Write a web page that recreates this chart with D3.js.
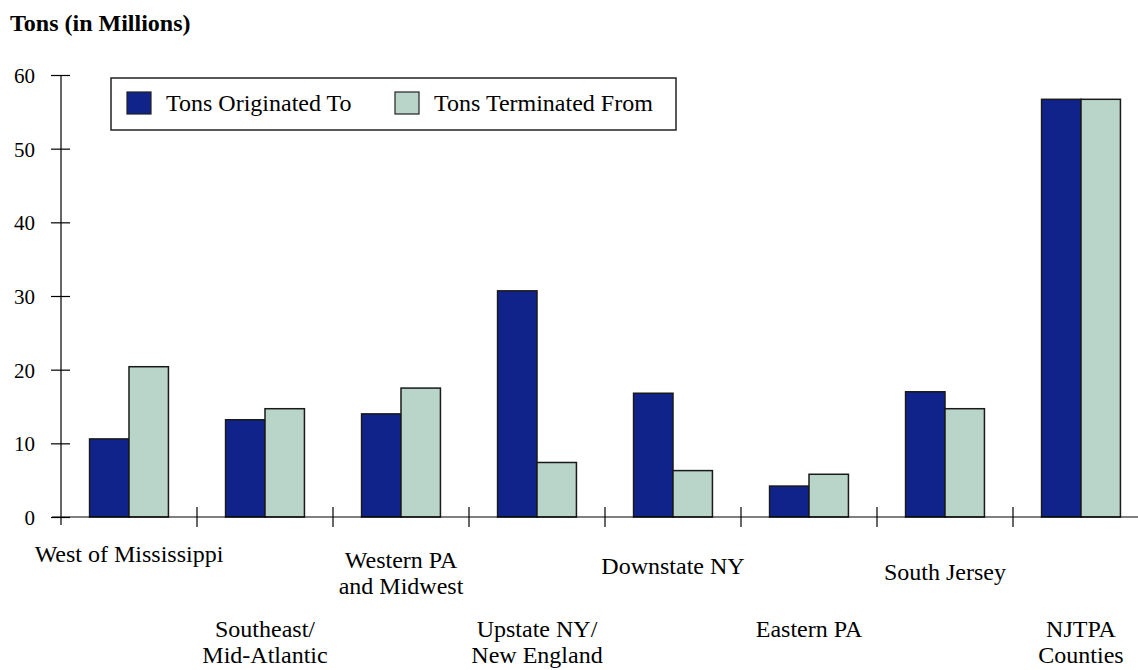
<!DOCTYPE html>
<meta charset="utf-8">
<script src="https://d3js.org/d3.v7.min.js"></script>
<style>
  body { margin: 0; background: #fff; }
  svg text { font-family: "Liberation Serif", "Times New Roman", serif !important; fill: #000; }
</style>
<div id="chart"></div>
<script>

// data (millions of tons)
var categories = ["West of Mississippi", "Southeast/ Mid-Atlantic", "Western PA and Midwest",
                  "Upstate NY/ New England", "Downstate NY", "Eastern PA", "South Jersey", "NJTPA Counties"];
// how each category label is broken into lines
var labelLines = [["West of Mississippi"], ["Southeast/", "Mid-Atlantic"], ["Western PA", "and Midwest"],
                  ["Upstate NY/", "New England"], ["Downstate NY"], ["Eastern PA"], ["South Jersey"], ["NJTPA", "Counties"]];
var seriesNames = ["Tons Originated To", "Tons Terminated From"];
var originated = [10.6, 13.2, 14.0, 30.7, 16.8, 4.2, 17.0, 56.7];
var terminated = [20.4, 14.7, 17.5, 7.4, 6.3, 5.8, 14.7, 56.7];
var yTicks = [0, 10, 20, 30, 40, 50, 60];

var colors = ["#10238b", "#b9d5ca"];

var width = 1138, height = 670;
var x0 = 61, step = 136, yBase = 517, yTop = 75;

var svg = d3.select("#chart").append("svg")
    .attr("width", width)
    .attr("height", height);

// title
svg.append("text")
    .attr("x", 10)
    .attr("y", 31)
    .style("font-weight", "bold")
    .style("font-size", "24px")
    .text("Tons (in Millions)");

// scales
var x = d3.scaleBand()
  .domain(categories)
  .range([x0, x0 + step * categories.length])
  .paddingInner(0.42)
  .paddingOuter(0.21);

var x1 = d3.scaleBand()
  .domain(seriesNames)
  .range([0, x.bandwidth()]);

var y = d3.scaleLinear()
  .domain([0, 60])
  .range([yBase, yTop]);

// y axis
var yAxis = svg.append("g")
    .attr("transform", "translate(" + x0 + ",0)")
    .call(d3.axisLeft(y).tickValues(yTicks).tickSize(0).tickPadding(0));
yAxis.attr("font-family", null);
yAxis.select(".domain").remove();
yAxis.selectAll(".tick line")
    .attr("x1", -10).attr("x2", 9)
    .attr("stroke", "#000").attr("stroke-width", 1.2);
yAxis.selectAll(".tick text")
    .attr("x", -26)
    .attr("dy", "0.35em")
    .style("font-size", "21px");
yAxis.append("line")
    .attr("y1", yTop).attr("y2", yBase + 8)
    .attr("stroke", "#000").attr("stroke-width", 1.2);

// bars
var rows = categories.map(function(c, i) {
  return {cat: c, values: [originated[i], terminated[i]]};
});

var groups = svg.selectAll("g.group")
  .data(rows)
  .enter().append("g")
    .attr("class", "group")
    .attr("transform", function(d) { return "translate(" + x(d.cat) + ",0)"; });

groups.selectAll("rect")
  .data(function(d) { return d.values.map(function(v, j) { return {name: seriesNames[j], value: v, j: j}; }); })
  .enter().append("rect")
    .attr("x", function(d) { return x1(d.name); })
    .attr("y", function(d) { return y(d.value); })
    .attr("width", x1.bandwidth())
    .attr("height", function(d) { return yBase - y(d.value); })
    .attr("fill", function(d) { return colors[d.j]; })
    .attr("stroke", "#1a1a1a")
    .attr("stroke-width", 1.5);

// x axis baseline with boundary ticks between groups
svg.append("line")
    .attr("x1", x0 - 9).attr("x2", width)
    .attr("y1", yBase).attr("y2", yBase)
    .attr("stroke", "#000").attr("stroke-width", 1.2);

var bounds = categories.map(function(c) { return x(c) - (x.step() - x.bandwidth()) / 2; });
bounds.push(bounds[bounds.length - 1] + x.step());
svg.selectAll("line.xtick")
  .data(bounds.slice(1))
  .enter().append("line")
    .attr("class", "xtick")
    .attr("x1", function(d) { return d; }).attr("x2", function(d) { return d; })
    .attr("y1", yBase - 10).attr("y2", yBase + 10)
    .attr("stroke", "#000").attr("stroke-width", 1.2);

// category labels, alternating between two rows
var labels = svg.selectAll("text.cat")
  .data(categories)
  .enter().append("text")
    .attr("class", "cat")
    .attr("text-anchor", "middle")
    .style("font-size", "24px")
    .attr("transform", function(d, i) {
      var yy = (i % 2 === 0) ? 562 + 6 * (i / 2) : 637;
      return "translate(" + (x(d) + x.bandwidth() / 2) + "," + yy + ")";
    });

labels.selectAll("tspan")
  .data(function(d, i) { return labelLines[i]; })
  .enter().append("tspan")
    .attr("x", 0)
    .attr("dy", function(d, k) { return k === 0 ? 0 : 26; })
    .text(function(d) { return d; });

// legend
var legend = svg.append("g");
legend.append("rect")
    .attr("x", 111).attr("y", 78)
    .attr("width", 565).attr("height", 52)
    .attr("fill", "#fff")
    .attr("stroke", "#222").attr("stroke-width", 1.5);

var legendX = [127, 395];
seriesNames.forEach(function(name, i) {
  legend.append("rect")
      .attr("x", legendX[i]).attr("y", 92)
      .attr("width", 24).attr("height", 22)
      .attr("fill", colors[i])
      .attr("stroke", "#222").attr("stroke-width", 1.2);
  legend.append("text")
      .attr("x", legendX[i] + 39)
      .attr("y", 111)
      .style("font-size", "24px")
      .text(name);
});

</script>
